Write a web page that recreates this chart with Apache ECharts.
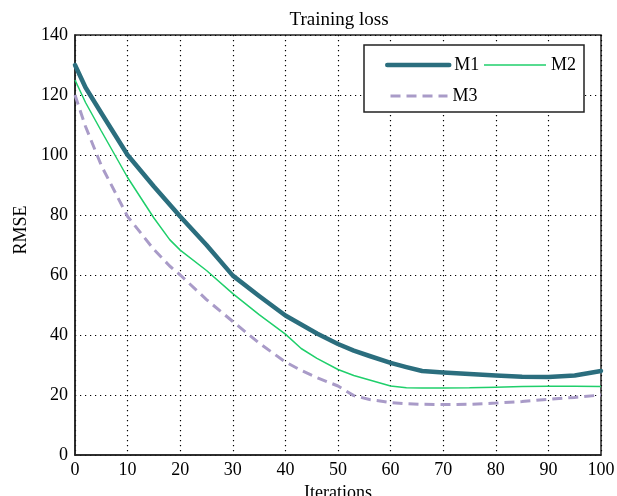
<!DOCTYPE html>
<html>
<head>
<meta charset="utf-8">
<script src="https://cdn.jsdelivr.net/npm/echarts@6/dist/echarts.min.js"></script>
<style>html,body{margin:0;padding:0;background:#fff}#c{width:617px;height:496px}</style>
</head>
<body>
<div id="c"></div>
<script>
const iterations = [0, 2, 5, 10, 15, 18, 20, 25, 30, 35, 40, 43, 46, 50, 53, 56, 60, 63, 66, 70, 75, 80, 85, 90, 95, 100];
const m1 = [130, 122.5, 114, 100, 89.5, 83.5, 79.5, 70, 59.8, 53, 46.5, 43.5, 40.5, 37, 34.8, 33, 30.7, 29.3, 28, 27.5, 27, 26.5, 26.1, 26, 26.5, 28];
const m2 = [125, 117.5, 108, 92.5, 79, 71.8, 68.3, 61.5, 53.8, 46.8, 40.3, 35.5, 32.2, 28.5, 26.5, 25, 23, 22.4, 22.3, 22.3, 22.4, 22.6, 22.8, 22.9, 22.9, 22.8];
const m3 = [120, 109.5, 96.5, 79.5, 68.5, 63, 60, 51.8, 44.5, 37.3, 31, 28.2, 25.8, 23, 19.8, 18.5, 17.5, 17.1, 16.9, 16.8, 16.9, 17.3, 17.8, 18.6, 19.2, 20];
const seriesNames = ['M1', 'M2', 'M3'];
const xTicks = [0, 10, 20, 30, 40, 50, 60, 70, 80, 90, 100];
const yTicks = [0, 20, 40, 60, 80, 100, 120, 140];

const FONT = '"Liberation Serif", "DejaVu Serif", serif';
const pairs = (ys) => iterations.map((x, i) => [x, ys[i]]);

const chart = echarts.init(document.getElementById('c'), null, {renderer: 'canvas'});
const splitStyle = {color: '#000', width: 1.2, type: [1.2, 3.8]};
const legendText = {fontFamily: FONT, fontSize: 18, color: '#000'};
chart.setOption({
  animation: false,
  backgroundColor: '#fff',
  title: {
    text: 'Training loss', left: 334, top: 6, textAlign: 'center',
    textStyle: {fontFamily: FONT, fontWeight: 'normal', fontSize: 19, color: '#000'}
  },
  grid: {left: 75, right: 16, top: 35, bottom: 41, show: true, borderColor: '#222', borderWidth: 1.5,
    backgroundColor: 'transparent', containLabel: false, outerBoundsMode: 'none'},
  legend: [
    {
      data: [
        {name: 'M1', lineStyle: {width: 4.5, cap: 'round'}},
        {name: 'M2', lineStyle: {width: 1.5}}
      ],
      left: 380, top: 51, itemWidth: 62, itemHeight: 14, itemGap: 4,
      itemStyle: {opacity: 0}, textStyle: legendText, z: 20
    },
    {
      data: [{name: 'M3', lineStyle: {width: 3, type: [10, 6]}}],
      left: 384, top: 82, itemWidth: 57, itemHeight: 14,
      itemStyle: {opacity: 0}, textStyle: legendText, z: 20
    }
  ],
  graphic: [{
    type: 'rect', z: 15, shape: {x: 364, y: 45, width: 220, height: 67},
    style: {fill: '#fff', stroke: '#222', lineWidth: 1.5}
  }],
  xAxis: {
    type: 'value', min: 0, max: 100, interval: 10,
    name: 'Iterations', nameLocation: 'middle', nameGap: 22,
    nameTextStyle: {fontFamily: FONT, fontSize: 18, color: '#000'},
    axisLine: {show: true, lineStyle: {color: '#222', width: 1.5}},
    axisTick: {show: false},
    axisLabel: {fontFamily: FONT, fontSize: 18, color: '#000', margin: 6,
      formatter: (v) => xTicks.includes(v) ? String(v) : ''},
    splitLine: {show: true, lineStyle: splitStyle}
  },
  yAxis: {
    type: 'value', min: 0, max: 140, interval: 20,
    name: 'RMSE', nameLocation: 'middle', nameGap: 43,
    nameTextStyle: {fontFamily: FONT, fontSize: 18, color: '#000', padding: [0, 0, 0, 30]},
    axisLine: {show: true, lineStyle: {color: '#222', width: 1.5}},
    axisTick: {show: false},
    axisLabel: {fontFamily: FONT, fontSize: 18, color: '#000', margin: 7,
      formatter: (v) => yTicks.includes(v) ? String(v) : ''},
    splitLine: {show: true, lineStyle: splitStyle}
  },
  series: [
    {name: seriesNames[0], type: 'line', data: pairs(m1), symbol: 'none', z: 5,
      color: '#2b6e7e', lineStyle: {color: '#2b6e7e', width: 4.5, cap: 'round', join: 'round'}},
    {name: seriesNames[1], type: 'line', data: pairs(m2), symbol: 'none', z: 4,
      color: '#1fcf6b', lineStyle: {color: '#1fcf6b', width: 1.5}},
    {name: seriesNames[2], type: 'line', data: pairs(m3), symbol: 'none', z: 3,
      color: '#a99bc8', lineStyle: {color: '#a99bc8', width: 3, type: [10, 6]}}
  ]
});
</script>
</body>
</html>
